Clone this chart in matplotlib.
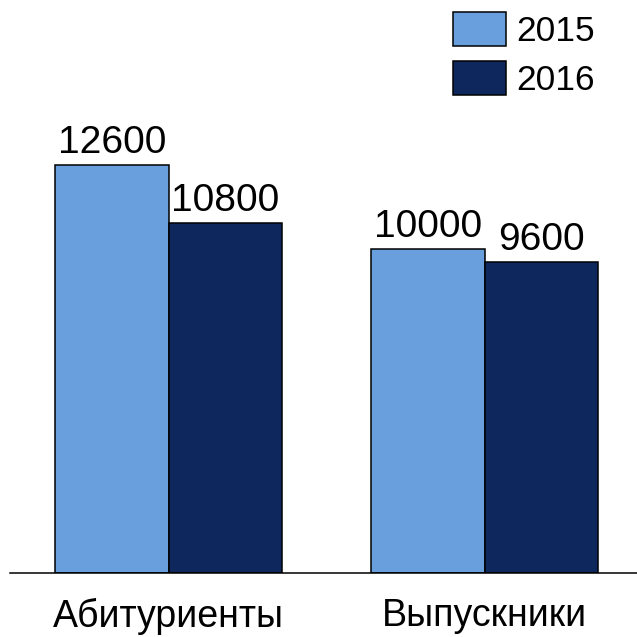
import matplotlib
matplotlib.use('Agg')
import matplotlib.pyplot as plt
import numpy as np

plt.rcParams['font.family'] = ['Liberation Sans', 'DejaVu Sans']

categories = ['Абитуриенты', 'Выпускники']
years = ['2015', '2016']
values_2015 = [12600, 10000]
values_2016 = [10800, 9600]
colors = ['#6a9fde', '#0e285e']

fig = plt.figure(figsize=(6.37, 6.37), dpi=100)
ax = fig.add_axes([10 / 637, 0.1005, 627 / 637, 0.8995])

x = np.arange(len(categories))
w = 0.358
b1 = ax.bar(x - w / 2, values_2015, w, color=colors[0], edgecolor='black', linewidth=1.1, label=years[0])
b2 = ax.bar(x + w / 2, values_2016, w, color=colors[1], edgecolor='black', linewidth=1.1, label=years[1])
ax.bar_label(b1, padding=3, fontsize=28)
ax.bar_label(b2, padding=3, fontsize=28)

ax.set_xlim(-0.5016, 1.4826)
ax.set_ylim(0, 17700)
ax.set_xticks(x)
ax.set_xticklabels(categories, fontsize=27)
ax.tick_params(axis='x', length=0, pad=18)
ax.set_yticks([])
for s in ['top', 'right', 'left']:
    ax.spines[s].set_visible(False)
ax.spines['bottom'].set_linewidth(1.1)

fig.legend(loc='upper left', bbox_to_anchor=(453 / 637, 1 - 12 / 637), frameon=False,
           fontsize=25.5, handlelength=1.5, handleheight=1.08, handletextpad=0.28,
           labelspacing=0.38, borderpad=0, borderaxespad=0)

fig.savefig('out.png', dpi=100)
